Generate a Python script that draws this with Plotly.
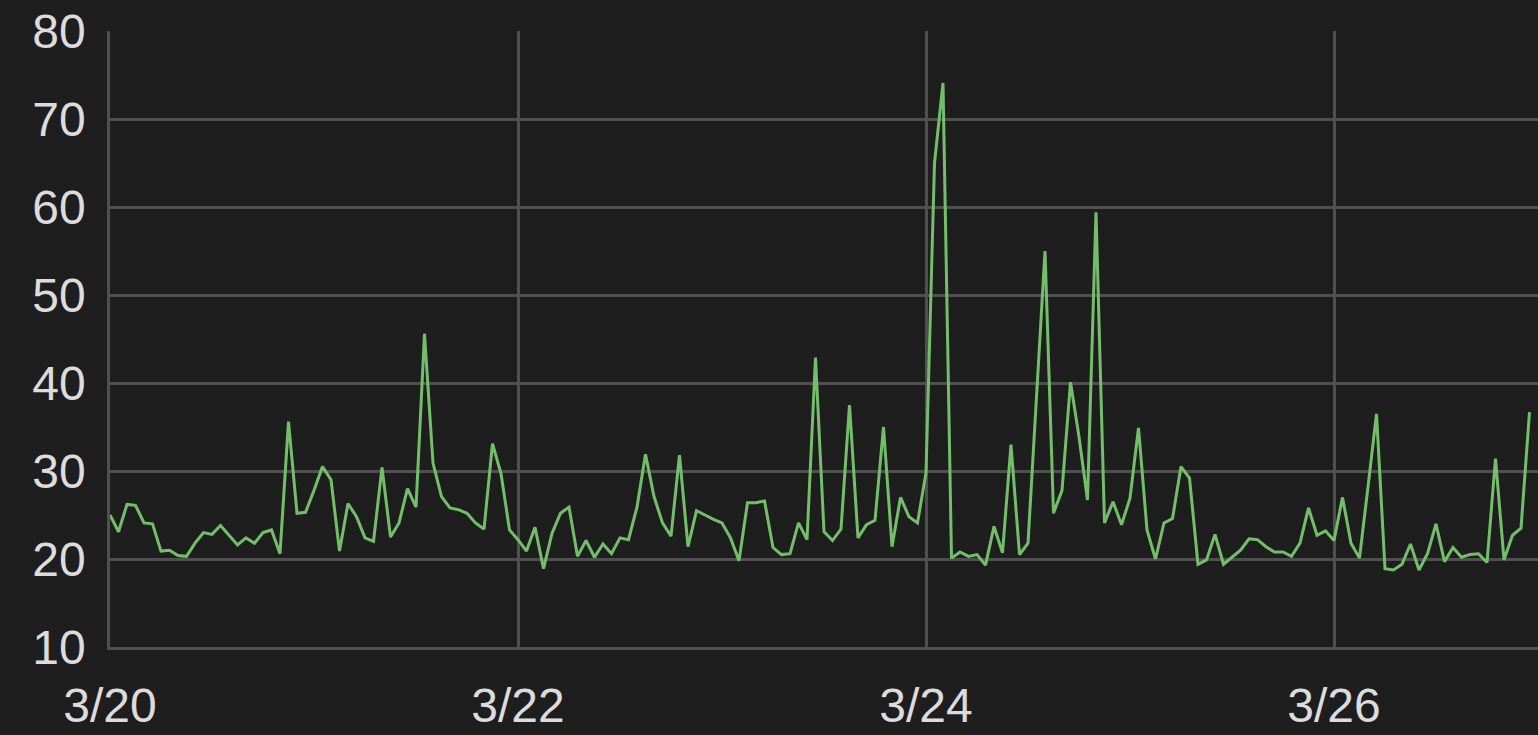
import plotly.graph_objects as go
import pandas as pd

start = "2023-03-20 00:00"
values = [
    25.0, 23.1, 26.2, 26.1, 24.1, 24.0, 20.9, 21.0, 20.4, 20.3,
    21.8, 23.0, 22.8, 23.8, 22.7, 21.6, 22.4, 21.8, 23.0, 23.3,
    20.6, 35.6, 25.2, 25.3, 27.8, 30.5, 29.0, 20.9, 26.3, 24.8,
    22.4, 22.0, 30.4, 22.5, 24.1, 28.0, 25.9, 45.6, 30.9, 27.1,
    25.8, 25.6, 25.2, 24.1, 23.4, 33.1, 29.7, 23.3, 22.2, 20.9,
    23.6, 18.9, 22.9, 25.2, 25.9, 20.3, 22.1, 20.2, 21.7, 20.6,
    22.4, 22.2, 25.9, 31.9, 27.1, 24.1, 22.6, 31.8, 21.4, 25.5,
    25.0, 24.5, 24.1, 22.4, 19.8, 26.4, 26.4, 26.6, 21.3, 20.5,
    20.6, 24.1, 22.2, 42.9, 23.1, 22.1, 23.4, 37.5, 22.4, 23.9,
    24.4, 35.0, 21.4, 27.0, 24.8, 24.1, 29.8, 65.0, 74.1, 20.1,
    20.8, 20.3, 20.5, 19.3, 23.7, 20.7, 33.0, 20.5, 21.8, 38.1,
    55.0, 25.2, 27.8, 40.1, 33.9, 26.7, 59.4, 24.1, 26.5, 23.9,
    26.9, 34.9, 23.3, 20.0, 24.1, 24.6, 30.5, 29.2, 19.4, 19.9,
    22.8, 19.4, 20.2, 21.0, 22.3, 22.2, 21.4, 20.8, 20.8, 20.3,
    21.8, 25.8, 22.7, 23.2, 22.1, 27.0, 21.8, 20.1, 28.2, 36.5,
    18.9, 18.75, 19.4, 21.7, 18.75, 20.6, 24.0, 19.7, 21.3, 20.2,
    20.5, 20.6, 19.6, 31.4, 19.9, 22.7, 23.5, 36.7,
]
times = pd.date_range(start, periods=len(values), freq="h")

tick_vals = ["2023-03-20", "2023-03-22", "2023-03-24", "2023-03-26"]
tick_text = ["3/20", "3/22", "3/24", "3/26"]
y_ticks = [10, 20, 30, 40, 50, 60, 70, 80]

BG = "#1f1e1f"
GRID = "#505050"
TXT = "#dcdcdc"
FONT = "Liberation Sans"

fig = go.Figure()
fig.add_trace(go.Scatter(
    x=times, y=values, mode="lines",
    line=dict(color="#73bf69", width=3),
    hoverinfo="x+y", showlegend=False,
))

fig.update_layout(
    width=1538, height=735,
    paper_bgcolor=BG, plot_bgcolor=BG,
    margin=dict(l=110, r=0, t=31, b=88),
    font=dict(family=FONT, size=48, color=TXT),
    xaxis=dict(
        range=["2023-03-20 00:00", "2023-03-27 00:00"],
        tickmode="array", tickvals=tick_vals, ticktext=tick_text,
        showgrid=True, gridcolor=GRID, gridwidth=2.5,
        showline=True, linecolor=GRID, linewidth=2.5,
        zeroline=False,
        ticks="outside", ticklen=15, tickcolor=BG,
        tickfont=dict(family=FONT, size=48, color=TXT),
    ),
    yaxis=dict(
        range=[10, 80],
        tickmode="array", tickvals=y_ticks,
        showgrid=True, gridcolor=GRID, gridwidth=2.5,
        showline=True, linecolor=GRID, linewidth=2.5,
        zeroline=False,
        ticks="outside", ticklen=12, tickcolor=BG,
        tickfont=dict(family=FONT, size=48, color=TXT),
    ),
)

fig.write_html(
    "out.html",
    config={"displayModeBar": False},
    post_script="document.body.style.margin='0';document.body.style.background='#1f1e1f';",
)
